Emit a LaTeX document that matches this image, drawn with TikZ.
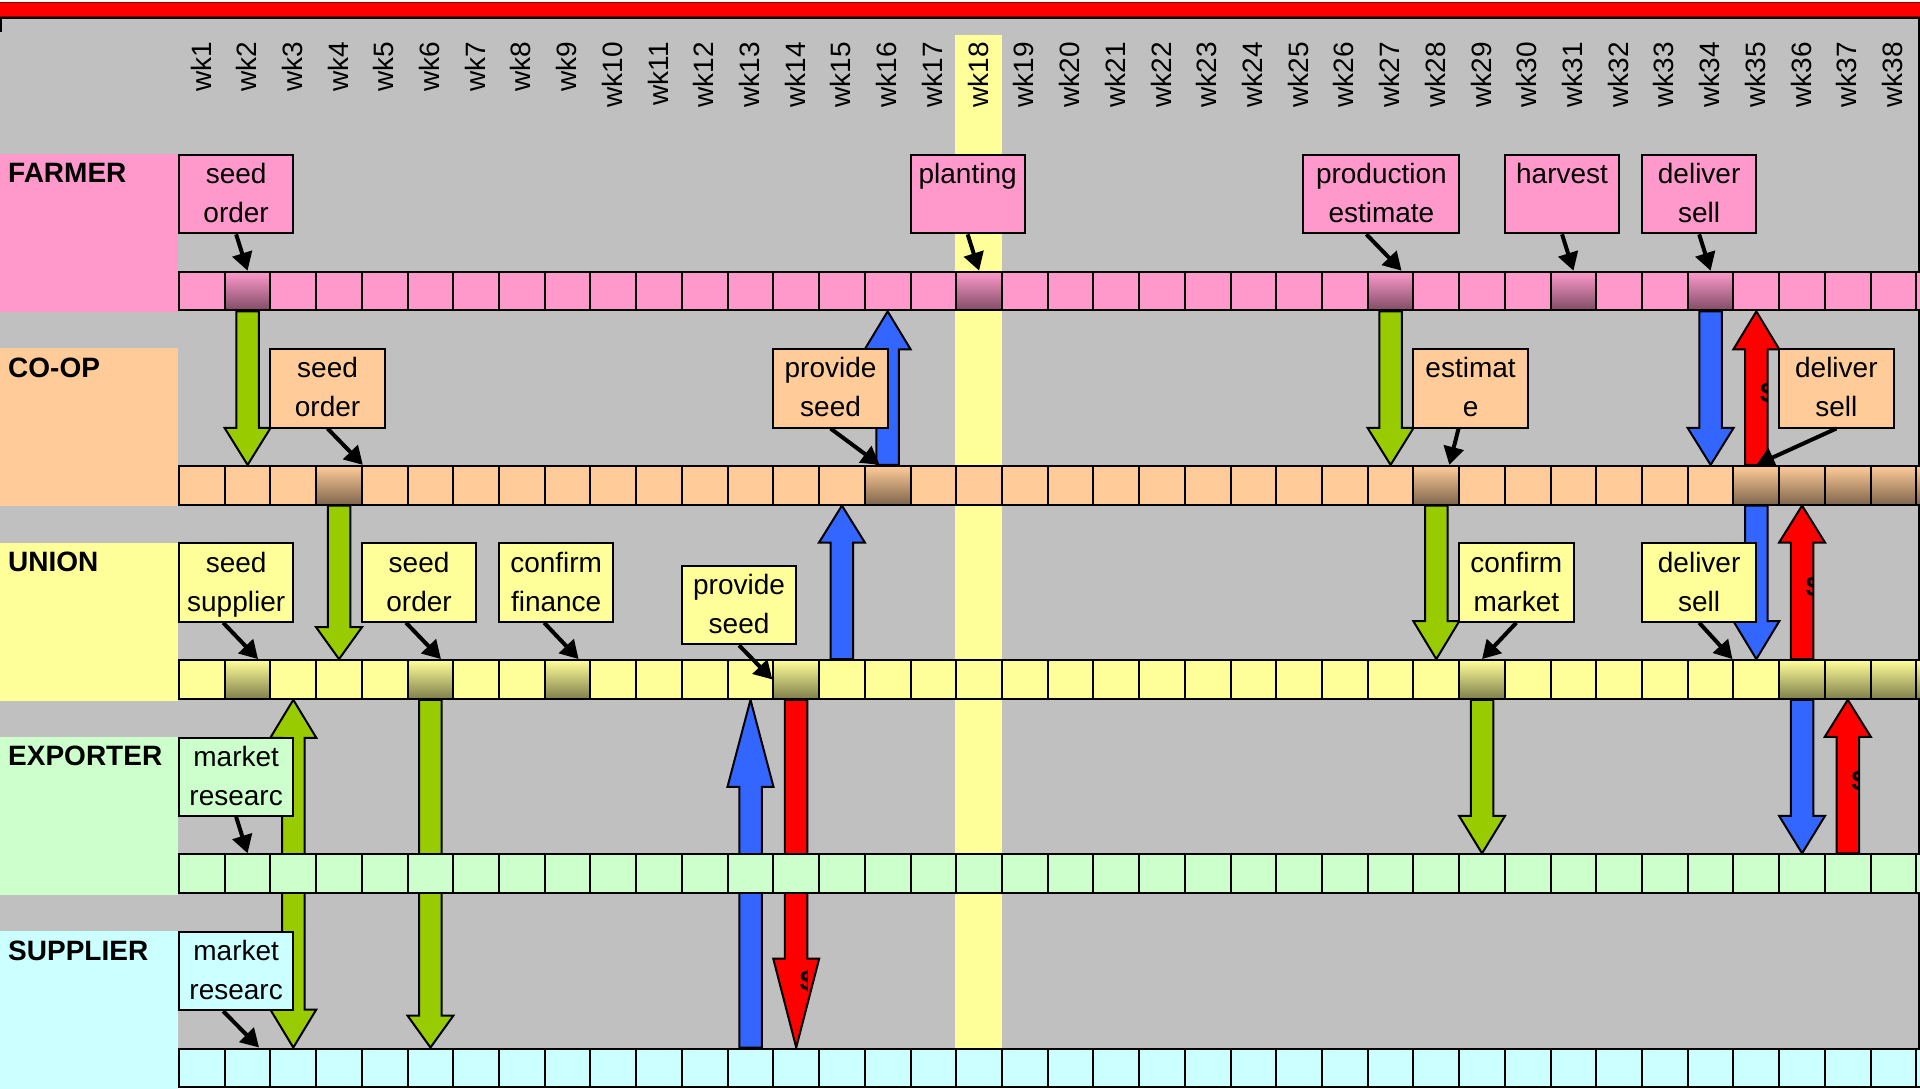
\documentclass[tikz,border=0pt]{standalone}
\usepackage{fontspec}
\setmainfont{Liberation Sans}
\usetikzlibrary{arrows.meta,calc,positioning}

\definecolor{farmer}{HTML}{FF99CC}
\definecolor{coop}{HTML}{FFCC99}
\definecolor{union}{HTML}{FFFF99}
\definecolor{exporter}{HTML}{CCFFCC}
\definecolor{supplier}{HTML}{CCFFFF}
\definecolor{sheet}{HTML}{C0C0C0}
\definecolor{goods}{HTML}{99CC00}
\definecolor{seeds}{HTML}{3366FF}
\definecolor{money}{HTML}{FF0000}

\pgfdeclarelayer{back}
\pgfdeclarelayer{flows}
\pgfsetlayers{back,flows,main}

\begin{document}
\begin{tikzpicture}[
			x=1pt, y=-1pt,
			>={Triangle[length=18pt,width=20pt]},
			cell/.style={draw, line width=2pt, fill=#1, minimum width=45.72pt,
				minimum height=38.7pt, inner sep=0pt, anchor=north west},
			done/.style={cell=#1, top color=#1, bottom color=#1!50!black},
			lane/.style={fill=#1, minimum width=178pt, minimum height=158pt,
				inner sep=0pt, anchor=north west},
			who/.style={font=\bfseries\fontsize{28pt}{28pt}\selectfont,
				inner sep=0pt, anchor=north west},
			week/.style={font=\fontsize{28pt}{28pt}\selectfont, rotate=90,
				anchor=east, inner sep=0pt},
			task/.style={draw, line width=2pt, fill=#1, anchor=north west,
				inner sep=0pt, text width=114.3pt, align=center, text height=28.7pt,
				text depth=49.6pt, font=\fontsize{28pt}{39pt}\selectfont},
			note/.style={->, line width=4pt},
			dollar/.style={font=\bfseries\fontsize{28pt}{28pt}\selectfont,
				inner sep=0pt, anchor=west},
			flow/.style={draw, line width=2pt, to path={
				let \p1=(\tikztostart), \p2=(\tikztotarget), \n1={#1*sign(\y2-\y1)} in
				({\x1-11.25pt},\y1) -- ({\x1-11.25pt},{\y2-(\n1)*1pt})
				-- ({\x1-23pt},{\y2-(\n1)*1pt}) -- (\x1,\y2)
				-- ({\x1+23pt},{\y2-(\n1)*1pt}) -- ({\x1+11.25pt},{\y2-(\n1)*1pt})
				-- ({\x1+11.25pt},\y1) -- cycle}},
			flowboth/.style={draw, line width=2pt, to path={
				let \p1=(\tikztostart), \p2=(\tikztotarget), \n1={#1*sign(\y2-\y1)} in
				(\x1,\y1) -- ({\x1+23pt},{\y1+(\n1)*1pt}) -- ({\x1+11.25pt},{\y1+(\n1)*1pt})
				-- ({\x1+11.25pt},{\y2-(\n1)*1pt}) -- ({\x1+23pt},{\y2-(\n1)*1pt}) -- (\x1,\y2)
				-- ({\x1-23pt},{\y2-(\n1)*1pt}) -- ({\x1-11.25pt},{\y2-(\n1)*1pt})
				-- ({\x1-11.25pt},{\y1+(\n1)*1pt}) -- ({\x1-23pt},{\y1+(\n1)*1pt}) -- cycle}}
	]
	\useasboundingbox (0,0) rectangle (1920,1088);

% sheet, title bar, week 18 column, lanes
	\begin{pgfonlayer}{back}
		\fill[white] (0,0) rectangle (1920,1088);
		\fill[sheet] (0,18) rectangle (1919,1088);
		\draw[line width=1.5pt] (0,18) -- (1919,18) -- (1919,1088);
		\draw[line width=1.5pt] (0.75,18) -- (0.75,32);
		\draw[line width=1pt, draw=money!55!black, fill=money] (-1,2) rectangle (1921,16.4);
		\fill[union] (955,35) rectangle (1002,1088);
		\foreach \name/\who/\top in {farmer/FARMER/154, coop/CO-OP/348.2,
				union/UNION/542.4, exporter/EXPORTER/736.6, supplier/SUPPLIER/930.8}
		{
			\node[lane=\name] (\name lane) at (0,\top) {};
			\node[who] (\name name) at ([xshift=8pt,yshift=-9.5pt]\name lane.north west) {\who};
		}
	\end{pgfonlayer}

% weeks
	\foreach \i in {1,...,38}
		\node[week] (wk\i) at ({178+(\i-0.5)*45.72},42) {wk\i};

% cells of each lane
	\foreach \r/\col/\top in {F/farmer/270.7, C/coop/464.9, U/union/659.1,
			E/exporter/853.3, S/supplier/1047.5}
		\foreach \i in {1,...,39}
			\node[cell=\col] (\r\i) at ({178+(\i-1)*45.72},\top) {};
	\foreach \i in {2,18,27,31,34}
		\node[done=farmer] (F\i) at ({178+(\i-1)*45.72},270.7) {};
	\foreach \i in {4,16,28,35,36,37,38,39}
		\node[done=coop] (C\i) at ({178+(\i-1)*45.72},464.9) {};
	\foreach \i in {2,6,9,14,29,36,37,38,39}
		\node[done=union] (U\i) at ({178+(\i-1)*45.72},659.1) {};

% goods, seed and money flows
	\begin{pgfonlayer}{flows}
		\foreach \a/\b/\h/\c in {F2.south/C2.north/37/goods, C4.south/U4.north/32/goods,
				U6.south/S6.north/32/goods, F27.south/C27.north/37/goods,
				C28.south/U28.north/38/goods, U29.south/E29.north/37.5/goods,
				C16.north/F16.south/38/seeds, U15.north/C15.south/37/seeds,
				S13.north/U13.south/87/seeds, F34.south/C34.north/37/seeds,
				C35.south/U35.north/38/seeds, U36.south/E36.north/37.5/seeds,
				U14.south/S14.north/89/money, C35.north/F35.south/38/money,
				U36.north/C36.south/37/money, E37.north/U37.south/37/money}
			\draw[flow=\h, fill=\c] (\a) to (\b);
		\draw[flowboth=38, fill=goods] (U3.south) to (S3.north);
		\foreach \a/\b/\where/\n in {U14.south/S14.north/0.81/cash1,
				C35.north/F35.south/0.47/cash2, U36.north/C36.south/0.47/cash3,
				E37.north/U37.south/0.47/cash4}
		{
			\begin{scope}
				\clip let \p1=(\a), \p2=(\b) in ({\x1-11.25pt},\y1) rectangle ({\x1+11.25pt},\y2);
				\node[dollar] (\n) at ($(\a)!\where!(\b)+(3.5pt,0)$) {\$};
			\end{scope}
		}
	\end{pgfonlayer}

% tasks
	\node[task=farmer] (fseed) at (178,154) {seed\\order};
	\node[task=farmer] (fplant) at (909.5,154) {planting};
	\node[task=farmer, text width=156pt] (fprod) at (1302.4,154) {production\\estimate};
	\node[task=farmer] (fharv) at (1503.9,154) {harvest};
	\node[task=farmer] (fdel) at (1641,154) {deliver\\sell};
	\node[task=coop] (cseed) at (269.4,348.2) {seed\\order};
	\node[task=coop] (cprov) at (772.4,348.2) {provide\\seed};
	\node[task=coop] (cest) at (1412.4,348.2) {estimat\\e};
	\node[task=coop] (cdel) at (1778.2,348.2) {deliver\\sell};
	\node[task=union] (useed) at (178,542.4) {seed\\supplier};
	\node[task=union] (uorder) at (360.9,542.4) {seed\\order};
	\node[task=union] (ufin) at (498,542.4) {confirm\\finance};
	\node[task=union] (uprov) at (680.9,565) {provide\\seed};
	\node[task=union] (umark) at (1458.2,542.4) {confirm\\market};
	\node[task=union] (udel) at (1641,542.4) {deliver\\sell};
	\node[task=exporter] (emark) at (178,736.6) {market\\researc};
	\node[task=supplier] (smark) at (178,930.8) {market\\researc};

	\draw[note] (fseed.south) -- (F2.north);
	\draw[note] (fplant.south) -- (F18.north);
	\draw[note] ([xshift=-15pt]fprod.south) -- ([xshift=11pt]F27.north);
	\draw[note] (fharv.south) -- (F31.north);
	\draw[note] (fdel.south) -- (F34.north);
	\draw[note] (cseed.south) -- (C4.north east);
	\draw[note] (cprov.south) -- ([xshift=-8pt]C16.north);
	\draw[note] ([xshift=-12pt]cest.south) -- ([xshift=13pt]C28.north);
	\draw[note] (cdel.south) -- (C35.north);
	\draw[note] ([xshift=-13pt]useed.south) -- ([xshift=10.5pt]U2.north);
	\draw[note] ([xshift=-13pt]uorder.south) -- ([xshift=10.5pt]U6.north);
	\draw[note] ([xshift=-12pt]ufin.south) -- ([xshift=11pt]U9.north);
	\draw[note] (uprov.south) -- (U14.west);
	\draw[note] (umark.south) -- (U29.north);
	\draw[note] (udel.south) -- (U35.north west);
	\draw[note] (emark.south) -- (E2.north);
	\draw[note] ([xshift=-13pt]smark.south) -- ([xshift=11.5pt]S2.north);
\end{tikzpicture}
\end{document}
